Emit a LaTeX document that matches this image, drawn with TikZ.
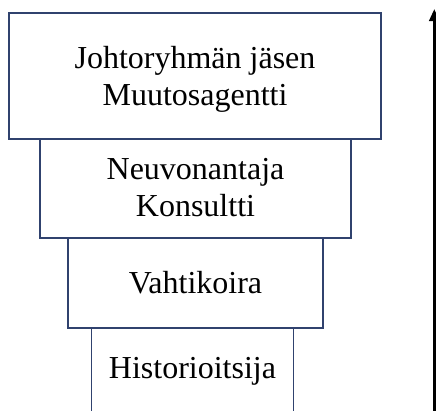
\documentclass[tikz,border=0pt]{standalone}
\usepackage{fontspec}
\setmainfont{Liberation Serif}
\usetikzlibrary{arrows.meta}
\definecolor{boxline}{RGB}{48,66,110}
\begin{document}
\begin{tikzpicture}[x=1pt,y=-1pt,
  box/.style={draw=boxline, line width=1.8pt, fill=white, inner sep=0pt,
    align=center, font=\fontsize{32}{37}\selectfont},
  updir/.style={line width=2.8pt, -{Triangle[length=12pt,width=10pt]}}]
\useasboundingbox (0,0) rectangle (436,410);
\clip (0,0) rectangle (436,410);
\node[box, minimum width=202pt, minimum height=87pt] (b4) at (192.5,371.5) {Historioitsija};
\node[box, minimum width=255pt, minimum height=90pt] (b3) at (195.5,283) {Vahtikoira};
\node[box, minimum width=311pt, minimum height=102pt, text depth=0pt] (b2) at (195.5,187) {Neuvonantaja\\Konsultti};
\node[box, minimum width=372pt, minimum height=126pt, text depth=0pt] (b1) at (195,76) {Johtoryhmän jäsen\\Muutosagentti};
\coordinate (abot) at (434.3,415);
\coordinate (atop) at (434.3,9);
\draw[updir] (abot) -- (atop);
\end{tikzpicture}
\end{document}
